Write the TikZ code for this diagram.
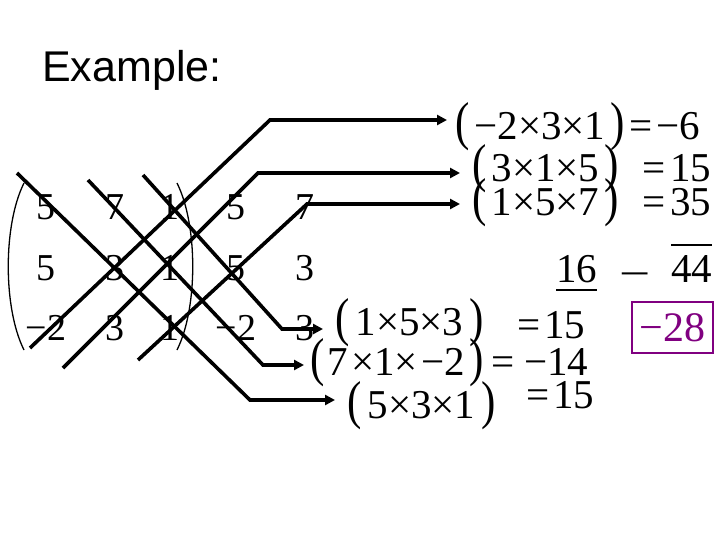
\documentclass[tikz,border=0pt]{standalone}
\usepackage{fontspec}
\setmainfont{Liberation Serif}
\newfontfamily\titlefont{Liberation Sans}
\usepackage{graphicx}
\usetikzlibrary{arrows.meta,positioning}
\definecolor{boxpurple}{RGB}{128,0,128}
\newcommand{\tallp}[1]{\scalebox{1.05}[1.3]{#1}}

\begin{document}
\begin{tikzpicture}[x=1pt,y=-1pt,
  entry/.style={font=\fontsize{38}{40}\selectfont,inner sep=0pt},
  prod/.style={font=\fontsize{41}{44}\selectfont,inner sep=0pt,anchor=base west},
  arr/.style={line width=3.6pt,-{Triangle[length=10pt,width=10pt]},shorten >=12pt}]
  \useasboundingbox (0,0) rectangle (720,540);
  \node[font=\titlefont\fontsize{43}{46}\selectfont,inner sep=0pt,anchor=base west] (title) at (42,82) {Example:};

  % matrix and its first two columns again
  \foreach \r/\y/\a/\b/\c/\d/\e in {1/207/5/7/1/5/7,2/268/5/3/1/5/3,3/328/−2/3/1/−2/3}{
    \node[entry] (m\r1) at (46,\y) {\a};
    \node[entry] (m\r2) at (115,\y) {\b};
    \node[entry] (m\r3) at (170,\y) {\c};
    \node[entry] (m\r4) at (236,\y) {\d};
    \node[entry] (m\r5) at (305,\y) {\e};
  }
  \draw[line width=1.3pt] (24,183) .. controls (3,225) and (3,308) .. (24,350);
  \draw[line width=1.3pt] (177,183) .. controls (198,225) and (198,308) .. (177,350);

  % products
  \node[prod] (eA) at (455,140) {\tallp{(}\kern5pt−2×3×1\kern5pt\tallp{)}};
  \node[prod] (vA) at (629,140) {=\kern4pt−6};
  \node[prod] (eB) at (472,182) {\tallp{(}\kern5pt3×1×5\kern5pt\tallp{)}};
  \node[prod] (vB) at (642,182) {=\kern5pt15};
  \node[prod] (eC) at (472,215) {\tallp{(}\kern5pt1×5×7\kern5pt\tallp{)}};
  \node[prod] (vC) at (642,215) {=\kern5pt35};
  \node[prod] (eD) at (335,335) {\tallp{(}\kern6pt1×5×3\kern6pt\tallp{)}};
  \node[prod] (vD) at (517,338) {=\kern4pt15};
  \node[prod] (eE) at (310,375) {\tallp{(}\kern3pt7\kern3pt×1×\kern4pt−2\kern4pt\tallp{)}};
  \node[prod] (vE) at (491,375) {=\kern10pt−14};
  \node[prod] (eF) at (347,418) {\tallp{(}\kern6pt5×3×1\kern6pt\tallp{)}};
  \node[prod] (vF) at (526,408) {=\kern4pt15};

  % sums
  \node[prod] (s16) at (556,282) {16};
  \node[prod] (diff) at (619,287) {\scalebox{1.35}[1]{−}};
  \node[prod] (s44) at (671,282) {44};
  \draw[line width=1.8pt] ([yshift=-8pt]s16.base west) -- ([yshift=-8pt]s16.base east);
  \draw[line width=1.8pt] ([yshift=37pt]s44.base west) -- ([yshift=37pt]s44.base east);
  \node[draw=boxpurple,text=boxpurple,line width=1.5pt,minimum width=81pt,minimum height=51pt,
    inner sep=0pt,font=\fontsize{42}{45}\selectfont] (res) at (672.5,327.5) {−28};

  % diagonals up
  \coordinate (a0) at (30,348);  \coordinate (a1) at (270,120);
  \coordinate (b0) at (63,368);  \coordinate (b1) at (258,173);
  \coordinate (c0) at (138,360); \coordinate (c1) at (307,204);
  \draw[arr,shorten >=8pt] (a0) -- (a1) -- (a1 -| eA.west);
  \draw[arr] (b0) -- (b1) -- (b1 -| eB.west);
  \draw[arr] (c0) -- (c1) -- (c1 -| eC.west);
  % diagonals down
  \coordinate (d0) at (143,175); \coordinate (d1) at (282,329);
  \coordinate (e0) at (88,180);  \coordinate (e1) at (263,365);
  \coordinate (f0) at (17,173);  \coordinate (f1) at (250,400);
  \draw[arr] (d0) -- (d1) -- (d1 -| eD.west);
  \draw[arr,shorten >=6pt] (e0) -- (e1) -- (e1 -| eE.west);
  \draw[arr] (f0) -- (f1) -- (f1 -| eF.west);
\end{tikzpicture}
\end{document}
